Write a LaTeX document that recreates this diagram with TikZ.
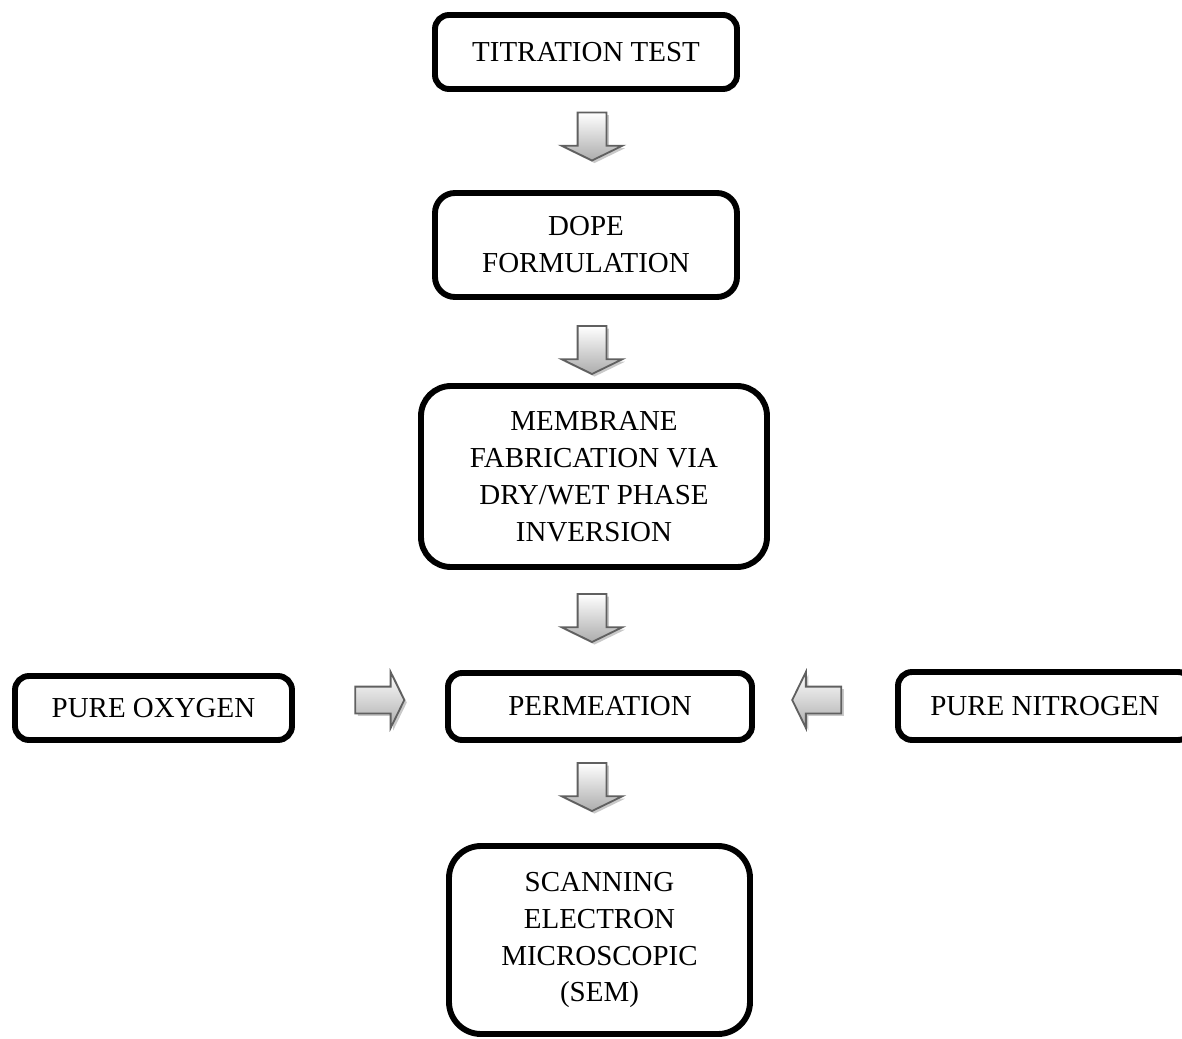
\documentclass[tikz,border=0pt]{standalone}
\usepackage{fontspec}
\setmainfont{Liberation Serif}
\usepackage{tikz}
\usetikzlibrary{shapes.arrows, shadows, positioning}

\begin{document}
\begin{tikzpicture}[
    flow_box/.style={rectangle, draw=black, line width=4.2pt, fill=white, align=center,
        inner sep=0pt, font=\fontsize{20.6}{26.3}\selectfont},
    block_arrow/.style={single arrow, draw=gray!75!black, line width=1.3pt,
        single arrow head indent=0pt, top color=white, bottom color=gray!65,
        drop shadow={shadow xshift=1.8pt, shadow yshift=-1.8pt, fill=gray!60, opacity=0.7}},
    down_arrow/.style={block_arrow, shape border rotate=270, inner sep=0.3375cm, minimum height=1.2cm,
        single arrow head extend=0.4cm, single arrow tip angle=128},
    side_arrow/.style={block_arrow, inner sep=0.3125cm, minimum height=1.225cm,
        single arrow head extend=0.3625cm, single arrow tip angle=128}
]

\useasboundingbox (0cm,0cm) rectangle (29.55cm,-25.975cm);

% Main column of steps
\node[flow_box, minimum width=7.55cm, minimum height=1.85cm, rounded corners=0.35cm] (titr) at (14.65cm,-1.3cm) {TITRATION TEST};
\node[flow_box, minimum width=7.55cm, minimum height=2.6cm, rounded corners=0.5cm] (dope) at (14.65cm,-6.125cm) {DOPE\\FORMULATION};
\node[flow_box, minimum width=8.65cm, minimum height=4.525cm, rounded corners=0.75cm] (memb) at (14.85cm,-11.9125cm) {MEMBRANE\\FABRICATION VIA\\DRY/WET PHASE\\INVERSION};
\node[flow_box, minimum width=7.6cm, minimum height=1.675cm, rounded corners=0.35cm] (perm) at (15cm,-17.6625cm) {PERMEATION};
\node[flow_box, minimum width=7.525cm, minimum height=4.7cm, rounded corners=0.8cm] (sem) at (14.9875cm,-23.5cm) {SCANNING\\ELECTRON\\MICROSCOPIC\\(SEM)};

% Gas feeds
\node[flow_box, minimum width=6.925cm, minimum height=1.6cm, rounded corners=0.35cm] (oxy) at (3.8375cm,-17.7cm) {PURE OXYGEN};
\node[flow_box, minimum width=7.35cm, minimum height=1.7cm, rounded corners=0.35cm] (nitro) at (26.125cm,-17.65cm) {PURE NITROGEN};

% Block arrows between steps
\node[down_arrow] (a1) at (14.8cm,-3.325cm) {};
\node[down_arrow] (a2) at (14.8cm,-8.6625cm) {};
\node[down_arrow] (a3) at (14.8cm,-15.3625cm) {};
\node[down_arrow] (a4) at (14.8cm,-19.5875cm) {};

% Block arrows from the gas feeds
\node[side_arrow] (ao) at (9.4125cm,-17.5cm) {};
\node[side_arrow, shape border rotate=180] (an) at (20.5cm,-17.5cm) {};

\end{tikzpicture}
\end{document}
